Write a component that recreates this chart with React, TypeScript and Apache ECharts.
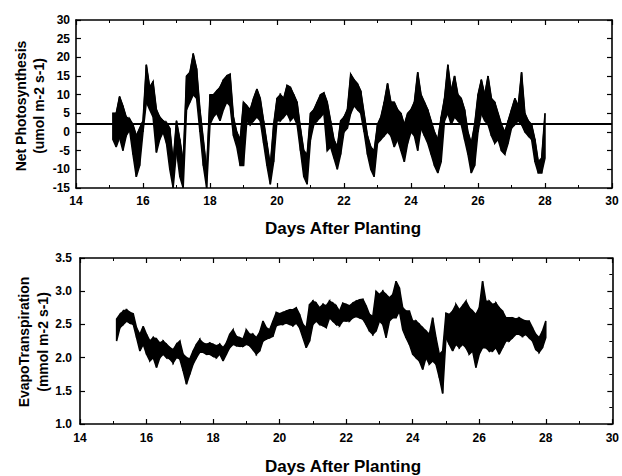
import React, { useEffect, useRef } from "react";
import * as echarts from "echarts";

// Sampling grid of the traces (days after planting)
const DAY_START = 15.1;
const DAY_STEP = 0.1;

// Net photosynthesis (umol m-2 s-1): upper and lower envelope per 0.1 day, 15.1 .. 28.0
const photoHigh = [
  5, 5, 9.5, 7, 4, 3.5, 2, -1, 1,
  3, 18, 12, 13.5, 6, 4, 3, 2.5, 1, -8,
  3, -2, -8, 15, 16, 21, 17, 6, -2, -10,
  10, 10, 11, 12, 14, 15, 15.5, 4, 0, -2,
  8, 7, 6, 9, 11.5, 9, 3, -3, -9, 2,
  9, 10, 9, 12.5, 12, 10, 8, 1, -5, -6,
  5, 6, 8, 10, 10.5, 8, 3, -2, -4, 3,
  4, 6, 15.5, 14, 13, 11, 5, -1, -4, -5,
  2, 4, 8, 13, 8, 8, 6, 5, 2, 5,
  6, 8, 16, 10, 8, 6, 3, 0, -2, 4,
  9, 18, 11, 15, 10, 9, 6, 0, -3, 2,
  10, 14, 10, 15, 9, 8, 5, 2, 0, 3,
  6, 9, 7, 16, 5, 3, 2, -2, -8, -7,
  5,
];
const photoLow = [
  -2, -4, -1.5, -5, -1, 0.5, -6, -12, -9,
  0, 8, 6, 4, -5.5, -2, 0, -3, -10, -15,
  -5, -12, -15, 6, 8, 10, 9, 0, -9, -15,
  2, 4, 5, 3, 6, 8, 7, -1, -4, -9,
  -9, 3, 2, 3, 4, 3, -3, -9, -14, -8,
  3, 3, 4, 5, 3, 4, 2, -5, -12, -14,
  -2, 2, 3, 4, 5, -5, -4, -7, -10, -6,
  0, 1, 5, 7, 6, 5, 0, -6, -10, -12,
  -3, -2, -1, 0, -1, -4, -2, -5, -8, -3,
  0, -1, -5, 1, -1, -3, -6, -9, -11, -8,
  3, 5, 2, 4, 3, 2, -2, -6, -11, -9,
  0, 5, 3, 2, -1, -3, -2, -5, -6, -3,
  1, 2, 3, 2, 0, -1, -2, -8, -11, -11,
  -7,
];
const PHOTO_REF_LINE = 2.3;

// EvapoTranspiration (mmol m-2 s-1): upper and lower envelope per 0.1 day, 15.1 .. 28.0
const etHigh = [
  2.58, 2.65, 2.7, 2.72, 2.68, 2.66, 2.45, 2.35, 2.47,
  2.35, 2.25, 2.3, 2.28, 2.22, 2.25, 2.2, 2.15, 2.12, 2.2,
  2.25, 2.05, 2.0, 1.98, 2.1, 2.2, 2.27, 2.22, 2.2, 2.22,
  2.2, 2.18, 2.2, 2.15, 2.22, 2.35, 2.42, 2.32, 2.3, 2.28,
  2.42, 2.35, 2.35, 2.3, 2.38, 2.55, 2.45, 2.42, 2.55, 2.68,
  2.66, 2.68, 2.7, 2.72, 2.72, 2.75, 2.65, 2.5, 2.45, 2.8,
  2.85, 2.82, 2.75, 2.8, 2.78, 2.85, 2.82, 2.78, 2.7, 2.82,
  2.8, 2.78, 2.82, 2.85, 2.87, 2.88, 2.78, 2.65, 2.62, 3.0,
  2.95, 3.0, 2.95, 2.9, 2.95, 3.15, 3.05, 2.75, 2.7, 2.7,
  2.55, 2.55, 2.5, 2.45, 2.4, 2.35, 2.6, 2.3, 2.05, 2.1,
  2.67, 2.65, 2.7, 2.8, 2.72, 2.78, 2.85, 2.75, 2.7, 2.65,
  2.75, 3.15, 2.85, 2.85, 2.8, 2.82, 2.75, 2.7, 2.6, 2.6,
  2.6, 2.58, 2.6, 2.57, 2.55, 2.55, 2.45, 2.35, 2.3, 2.4,
  2.55,
];
const etLow = [
  2.25, 2.45, 2.5, 2.55, 2.52, 2.5, 2.3, 2.1, 2.2,
  2.05, 1.95, 2.0, 1.85, 2.0, 2.05, 2.0, 1.98, 1.92, 2.0,
  1.98, 1.8, 1.6, 1.75, 1.9, 2.0, 2.08, 2.08, 2.05, 2.05,
  2.02, 2.0, 2.05, 1.95, 2.05, 2.15, 2.2, 2.18, 2.17, 2.17,
  2.2, 2.18, 2.12, 2.05, 2.1, 2.25, 2.28, 2.3, 2.32, 2.48,
  2.5, 2.5, 2.52, 2.5, 2.48, 2.52, 2.45, 2.3, 2.15, 2.25,
  2.5, 2.55, 2.5, 2.48, 2.45, 2.6, 2.55, 2.5, 2.48, 2.55,
  2.55, 2.55, 2.6, 2.62, 2.6, 2.58, 2.5, 2.4, 2.35, 2.4,
  2.55, 2.5, 2.3, 2.55, 2.6, 2.6, 2.7, 2.42, 2.3, 2.2,
  2.05, 2.0, 1.95, 1.82, 2.0, 1.9, 1.95, 1.9, 1.7, 1.46,
  2.3, 2.2, 2.1, 2.2, 2.15, 2.2, 2.15, 2.05, 2.1, 1.85,
  2.05, 2.15, 2.15, 2.1, 2.1, 2.15, 2.05, 2.15, 2.25, 2.25,
  2.3, 2.35, 2.35, 2.32, 2.35, 2.3, 2.25, 2.12, 2.08, 2.15,
  2.3,
];

const X_MIN = 14;
const X_MAX = 30;
const X_INTERVAL = 2;
const PHOTO_MIN = -15;
const PHOTO_MAX = 30;
const PHOTO_INTERVAL = 5;
const ET_MIN = 1.0;
const ET_MAX = 3.5;
const ET_INTERVAL = 0.5;

const X_TITLE = "Days After Planting";
const PHOTO_TITLE = "Net Photosynthesis\n(umol m-2 s-1)";
const ET_TITLE = "EvapoTranspiration\n(mmol m-2 s-1)";

const FONT = "'Liberation Sans', Arial, Helvetica, sans-serif";

function dayAt(i: number): number {
  return +(DAY_START + i * DAY_STEP).toFixed(3);
}
function bandData(high: number[], low: number[]): number[][] {
  return high.map((h, i) => [dayAt(i), low[i], h]);
}

const axisLine = { show: true, onZero: false, lineStyle: { color: "#000", width: 1.6 } };
const tick = { show: true, inside: true, length: 5, lineStyle: { color: "#000", width: 1.2 } };
const minor = (n: number) => ({
  show: true,
  splitNumber: n,
  length: 3,
  lineStyle: { color: "#000", width: 1 },
});
const label = (margin: number, extra: any = {}) => ({
  show: true,
  color: "#000",
  fontFamily: FONT,
  fontWeight: "bold",
  fontSize: 12,
  margin,
  ...extra,
});

function xAxes(gridIndex: number, margin: number) {
  return [
    {
      type: "value",
      gridIndex,
      min: X_MIN,
      max: X_MAX,
      interval: X_INTERVAL,
      position: "bottom",
      axisLine,
      axisTick: tick,
      minorTick: minor(2),
      axisLabel: label(margin),
      splitLine: { show: false },
    },
    {
      type: "value",
      gridIndex,
      min: X_MIN,
      max: X_MAX,
      interval: X_INTERVAL,
      position: "top",
      axisLine,
      axisTick: tick,
      minorTick: minor(2),
      axisLabel: { show: false },
      splitLine: { show: false },
    },
  ];
}

function yAxes(
  gridIndex: number,
  min: number,
  max: number,
  interval: number,
  margin: number,
  fmt: (v: number) => string,
  minorN: number
) {
  return [
    {
      type: "value",
      gridIndex,
      min,
      max,
      interval,
      position: "left",
      axisLine,
      axisTick: tick,
      minorTick: { show: false },
      axisLabel: label(margin, { formatter: fmt }),
      splitLine: { show: false },
    },
    {
      type: "value",
      gridIndex,
      min,
      max,
      interval,
      position: "right",
      axisLine,
      axisTick: tick,
      minorTick: minor(minorN),
      axisLabel: { show: false },
      splitLine: { show: false },
    },
  ];
}

function bandSeries(xAxisIndex: number, yAxisIndex: number, high: number[], low: number[]) {
  const data = bandData(high, low);
  return {
    type: "custom",
    xAxisIndex,
    yAxisIndex,
    data,
    clip: true,
    encode: { x: 0, y: [1, 2] },
    renderItem: (params: any, api: any) => {
      const i = params.dataIndex;
      if (i >= data.length - 1) return null;
      const a = data[i];
      const b = data[i + 1];
      const p1 = api.coord([a[0], a[1]]);
      const p2 = api.coord([b[0], b[1]]);
      const p3 = api.coord([b[0], b[2]]);
      const p4 = api.coord([a[0], a[2]]);
      return {
        type: "polygon",
        shape: { points: [p1, p2, p3, p4] },
        style: { fill: "#000", stroke: "#000", lineWidth: 1.5, lineJoin: "miter" },
      };
    },
  };
}

export default function App() {
  const ref = useRef<HTMLDivElement>(null);

  useEffect(() => {
    if (!ref.current) return;
    const chart = echarts.init(ref.current, undefined, { renderer: "svg" });
    chart.setOption({
      animation: false,
      backgroundColor: "#fff",
      grid: [
        { left: 76, top: 20, width: 536, height: 168 },
        { left: 80, top: 258, width: 535, height: 166 },
      ],
      xAxis: [...xAxes(0, 7), ...xAxes(1, 8)],
      yAxis: [
        ...yAxes(0, PHOTO_MIN, PHOTO_MAX, PHOTO_INTERVAL, 6, (v: number) => String(v), 1),
        ...yAxes(1, ET_MIN, ET_MAX, ET_INTERVAL, 8, (v: number) => v.toFixed(1), 2),
      ],
      series: [
        bandSeries(0, 0, photoHigh, photoLow),
        {
          type: "line",
          xAxisIndex: 0,
          yAxisIndex: 0,
          data: photoHigh.map((h, i) => [dayAt(i), h]),
          showSymbol: false,
          clip: true,
          lineStyle: { color: "#000", width: 1 },
          markLine: {
            silent: true,
            symbol: "none",
            label: { show: false },
            lineStyle: { color: "#000", width: 2, type: "solid" },
            data: [{ yAxis: PHOTO_REF_LINE }],
          },
        },
        bandSeries(2, 2, etHigh, etLow),
      ],
      graphic: [
        {
          type: "text",
          x: 343,
          y: 228,
          style: {
            text: X_TITLE,
            fill: "#000",
            font: `bold 17px ${FONT}`,
            textAlign: "center",
            textVerticalAlign: "middle",
          },
        },
        {
          type: "text",
          x: 343,
          y: 466,
          style: {
            text: X_TITLE,
            fill: "#000",
            font: `bold 17px ${FONT}`,
            textAlign: "center",
            textVerticalAlign: "middle",
          },
        },
        {
          type: "text",
          x: 30,
          y: 106,
          rotation: Math.PI / 2,
          style: {
            text: PHOTO_TITLE,
            fill: "#000",
            font: `bold 14px ${FONT}`,
            lineHeight: 18,
            textAlign: "center",
            textVerticalAlign: "middle",
          },
        },
        {
          type: "text",
          x: 33,
          y: 342,
          rotation: Math.PI / 2,
          style: {
            text: ET_TITLE,
            fill: "#000",
            font: `bold 14px ${FONT}`,
            lineHeight: 19,
            textAlign: "center",
            textVerticalAlign: "middle",
          },
        },
      ],
    });
    return () => chart.dispose();
  }, []);

  return (
    <div
      ref={ref}
      style={{ position: "absolute", left: 0, top: 0, width: 622, height: 476, background: "#fff" }}
    />
  );
}
